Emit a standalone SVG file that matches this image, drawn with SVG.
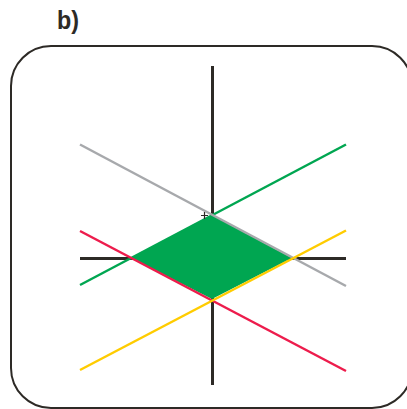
<svg xmlns="http://www.w3.org/2000/svg" width="407" height="409" viewBox="0 0 407 409">
<style>
.ax{stroke:#2d2a26;stroke-width:3;fill:none}
.ln{stroke-width:2.5;fill:none}
.lbl{font-family:"Liberation Sans",Arial,sans-serif;font-weight:bold;font-size:26px;fill:#2d2a26}
</style>
<rect x="0" y="0" width="407" height="409" fill="#ffffff"/>
<text class="lbl" x="57" y="29" textLength="22" lengthAdjust="spacingAndGlyphs">b)</text>
<g id="frame">
<rect x="11" y="46" width="401" height="362" rx="40" ry="40" fill="none" stroke="#2d2a26" stroke-width="2"/>
</g>
<g id="axes">
<line class="ax" x1="212.5" y1="66" x2="212.5" y2="385"/>
<line class="ax" x1="80" y1="258.5" x2="346" y2="258.5"/>
</g>
<g id="region">
<polygon points="131,258 212,215 292,258 212,299" fill="#00a651"/>
</g>
<g id="connectors">
<line class="ln" stroke="#00a651" x1="80" y1="285" x2="346" y2="144.5"/>
<line class="ln" stroke="#a7a9ac" x1="80" y1="144.5" x2="346" y2="286"/>
<line class="ln" stroke="#ed1c4c" x1="80" y1="231" x2="346" y2="371"/>
<line class="ln" stroke="#ffcc00" x1="80" y1="370" x2="346" y2="230.5"/>
</g>
<g id="origin-mark">
<path d="M201,215.5 h7 M204.5,212 v7" stroke="#2d2a26" stroke-width="1.2" fill="none"/>
</g>
</svg>
